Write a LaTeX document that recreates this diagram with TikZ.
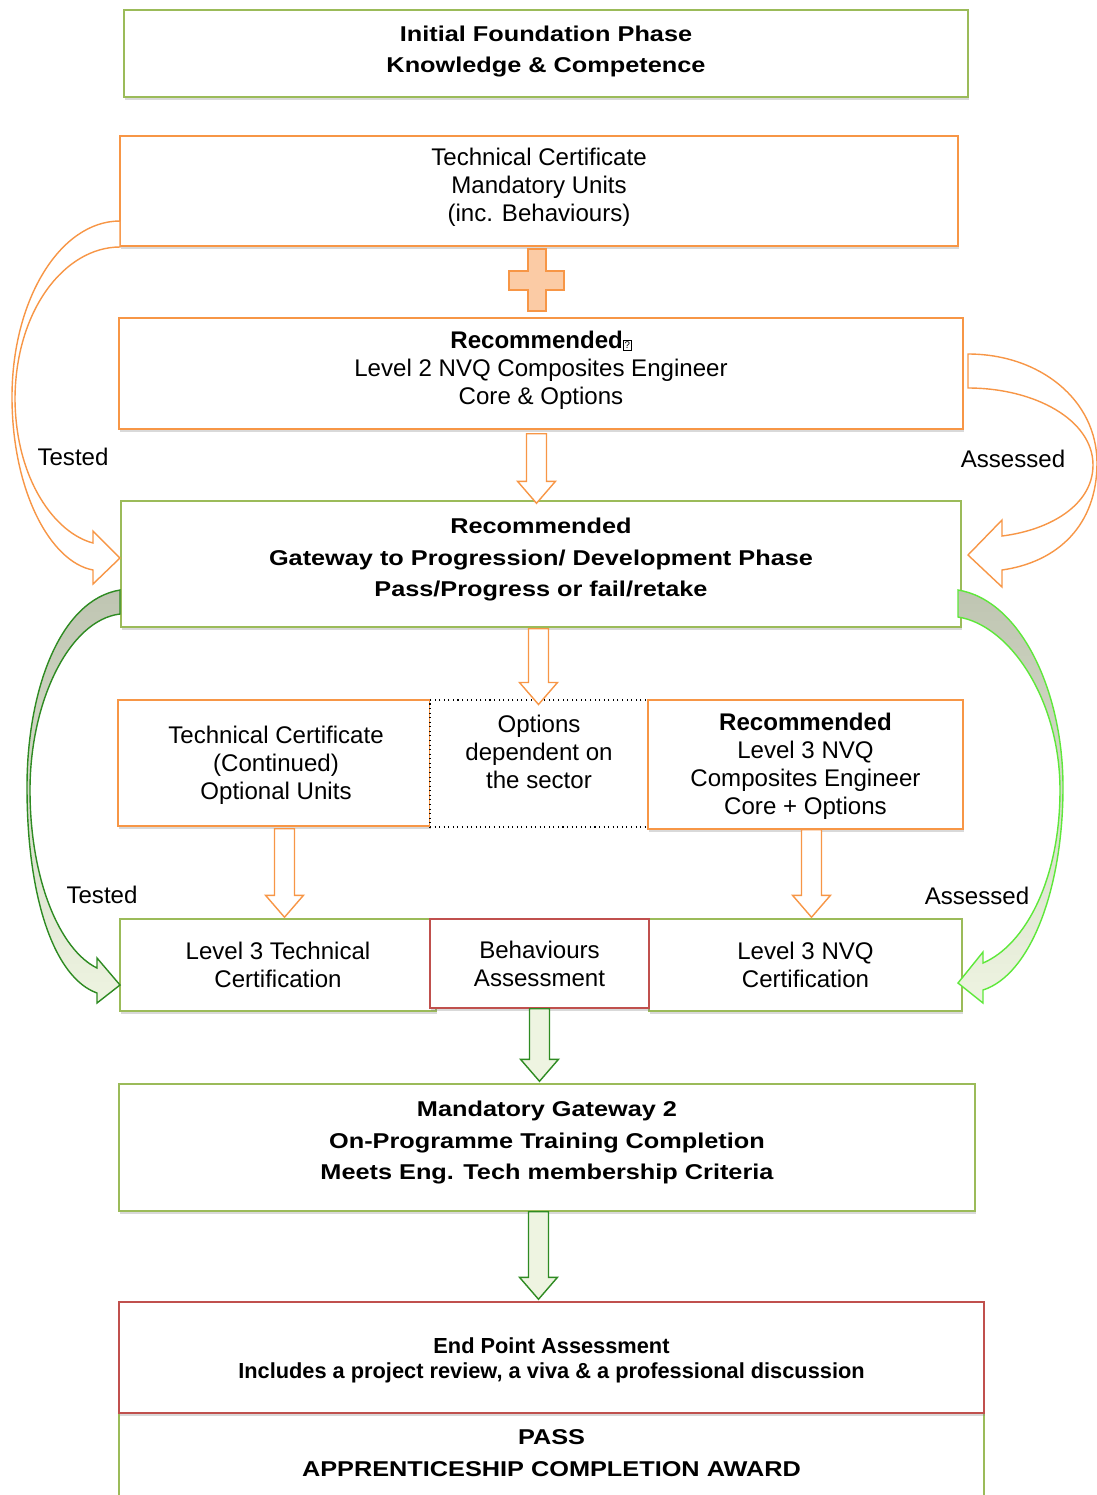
\documentclass[tikz,border=0pt]{standalone}
\usepackage{fontspec}
\setmainfont{Liberation Sans}
\newfontfamily\widefont[FakeStretch=1.18]{Liberation Sans}
\usetikzlibrary{calc,shadows}

\definecolor{grn}{HTML}{9BBB59}
\definecolor{org}{HTML}{F79646}
\definecolor{rd}{HTML}{C0504D}
\definecolor{plusfill}{HTML}{FBCBA5}
\definecolor{dkgrn}{HTML}{2E8B22}
\definecolor{brgrn}{HTML}{5EE83A}
\definecolor{ltgrn}{HTML}{EEF4E1}
\definecolor{greygrn}{HTML}{BFC5B2}

% block arrow pointing down, from a top point to a tip
\newcommand{\downblock}[3]{%
  \draw[#1] let \p1=#2, \p2=#3 in
    (\x1-5.7pt,\y1) -- (\x1+5.7pt,\y1) -- (\x1+5.7pt,\y2+12.5pt) -- (\x1+10.8pt,\y2+12.5pt)
    -- (\x1,\y2) -- (\x1-10.8pt,\y2+12.5pt) -- (\x1-5.7pt,\y2+12.5pt) -- cycle;}

\tikzset{
  px/.style 2 args={minimum width=#1*0.02cm, minimum height=#2*0.02cm},
  basebox/.style={draw, fill=white, inner sep=0pt, line width=0.85pt,
    drop shadow={shadow xshift=0.6pt, shadow yshift=-1.6pt, opacity=0.3}},
  greenbox/.style={basebox, draw=grn},
  orangebox/.style={basebox, draw=org},
  redbox/.style={basebox, draw=rd},
  dotbox/.style={draw=black, dotted, fill=white, inner sep=0pt, line width=0.6pt},
  plain/.style={align=center, inner sep=0pt, font=\fontsize{13.7}{16}\selectfont},
  heavy/.style={align=center, inner sep=0pt, font=\widefont\bfseries\fontsize{12.2}{18}\selectfont},
  epa/.style={align=center, inner sep=0pt, font=\bfseries\fontsize{12.4}{14.6}\selectfont},
  orangearrow/.style={draw=org, fill=white, line width=0.8pt, line join=miter},
  greenarrow/.style={draw=dkgrn, fill=ltgrn, line width=0.8pt, line join=miter},
  curvegreen/.style={line width=0.8pt, top color=greygrn, bottom color=ltgrn, line join=miter},
}

\begin{document}
\begin{tikzpicture}[x=0.02cm, y=-0.02cm]
  \useasboundingbox (0,0) rectangle (1097,1495);

  % Foundation phase
  \node[greenbox, px={844}{87}] (init) at (546,53.5) {};
  \node[heavy] (init-t) at (546,51.5) {Initial Foundation Phase\\Knowledge \& Competence};

  \node[orangebox, px={838}{110}] (tcm) at (539,191) {};
  \node[plain] (tcm-t) at (539,187.5) {Technical Certificate\\Mandatory Units\\(inc. Behaviours)};

  % plus sign
  \draw[draw=org, fill=plusfill, line width=0.8pt] (528,249) -- (546,249) -- (546,271) -- (564,271)
    -- (564,290) -- (546,290) -- (546,311) -- (528,311) -- (528,290) -- (509,290) -- (509,271)
    -- (528,271) -- cycle;

  \node[orangebox, px={844}{111}] (nvq2) at (541,373.5) {};
  \node[plain] (nvq2-t) at (541,370.5) {{\bfseries Recommended}{\setlength\fboxsep{0.6pt}\setlength\fboxrule{0.35pt}\fbox{\fontsize{5.5}{5.5}\selectfont ?}}\\Level 2 NVQ Composites Engineer\\Core \& Options};

  % Gateway
  \node[greenbox, px={840}{126}] (gate) at (541,564) {};
  \node[heavy] (gate-t) at (541,559.5) {Recommended\\Gateway to Progression/ Development Phase\\Pass/Progress or fail/retake};

  % Development phase
  \node[orangebox, px={312}{126}] (tcopt) at (274,763) {};
  \node[plain] (tcopt-t) at (276,765) {Technical Certificate\\(Continued)\\Optional Units};
  \node[dotbox, px={218}{127}] (opts) at (539,763.5) {};
  \node[plain] (opts-t) at (539,751.5) {Options\\dependent on\\the sector};
  \node[orangebox, px={315}{129}] (nvq3) at (805.5,764.5) {};
  \node[plain] (nvq3-t) at (805.5,766.5) {{\bfseries Recommended}\\Level 3 NVQ\\Composites Engineer\\Core + Options};

  \node[greenbox, px={316}{92}] (l3tech) at (278,965) {};
  \node[plain] (l3tech-t) at (278,965) {Level 3 Technical\\Certification};
  \node[greenbox, px={313}{92}] (l3nvq) at (805.5,965) {};
  \node[plain] (l3nvq-t) at (805.5,965) {Level 3 NVQ\\Certification};
  \node[redbox, px={219}{89}] (behav) at (539.5,963.5) {};
  \node[plain] (behav-t) at (539.5,964) {Behaviours\\Assessment};

  % Completion
  \node[greenbox, px={856}{127}] (mand) at (547,1147.5) {};
  \node[heavy] (mand-t) at (547,1142.5) {Mandatory Gateway 2\\On-Programme Training Completion\\Meets Eng. Tech membership Criteria};

  \node[greenbox, px={865}{94}] (pass) at (551.5,1460) {};
  \node[redbox, px={865}{111}] (epa) at (551.5,1357.5) {};
  \node[epa] (epa-t) at (551.5,1360.5) {End Point Assessment\\Includes a project review, a viva \& a professional discussion};
  \node[heavy] (pass-t) at (551.5,1453) {PASS\\APPRENTICESHIP COMPLETION AWARD};

  % straight block arrows
  \downblock{orangearrow}{($(nvq2.south)+(-4.5,4)$)}{($(gate.north)+(-4.5,3)$)}
  \downblock{orangearrow}{($(gate.south)+(-2.5,1)$)}{($(opts.north)+(0,5)$)}
  \downblock{orangearrow}{($(tcopt.south)+(10.5,2)$)}{($(l3tech.north)+(6.5,-1)$)}
  \downblock{orangearrow}{($(nvq3.south)+(6,0)$)}{($(l3nvq.north)+(6,-1)$)}
  \downblock{greenarrow}{(behav.south)}{($(mand.north)+(-7.5,-2)$)}
  \downblock{greenarrow}{($(mand.south)+(-8.5,0)$)}{($(epa.north)+(-13,-2)$)}

  % curved arrows
  \draw[orangearrow] (120,221) .. controls (60,221) and (12,300) .. (12,397)
    .. controls (12,490) and (50,562) .. (93,570) -- (93,584) -- (120,558) -- (93,531) -- (93,543)
    .. controls (55,533) and (16,480) .. (15,400) .. controls (15,310) and (65,247) .. (120,247) -- cycle;
  \draw[orangearrow] (968,354) .. controls (1040,354) and (1097,400) .. (1097,463)
    .. controls (1097,525) and (1058,562) .. (1002,570) -- (1002,587) -- (968,555) -- (1002,520) -- (1002,536)
    .. controls (1050,530) and (1093,505) .. (1093,465) .. controls (1093,420) and (1035,388) .. (968,388) -- cycle;
  \draw[curvegreen, draw=dkgrn] (120,590) .. controls (60,600) and (27,690) .. (27,787)
    .. controls (27,900) and (55,978) .. (97,993) -- (97,1003) -- (120,985) -- (97,958) -- (97,968)
    .. controls (60,950) and (30,880) .. (30,790) .. controls (30,700) and (70,620) .. (120,614) -- cycle;
  \draw[curvegreen, draw=brgrn] (958,590) .. controls (1020,600) and (1063,690) .. (1063,787)
    .. controls (1063,890) and (1030,975) .. (983,990) -- (983,1003) -- (958,983) -- (983,952) -- (983,963)
    .. controls (1025,945) and (1060,880) .. (1060,790) .. controls (1060,700) and (1010,625) .. (958,617) -- cycle;

  % arrow labels
  \node[plain] (tested1) at (73,457) {Tested};
  \node[plain] (assessed1) at (1013,459) {Assessed};
  \node[plain] (tested2) at (102,895) {Tested};
  \node[plain] (assessed2) at (977,896) {Assessed};
\end{tikzpicture}
\end{document}
